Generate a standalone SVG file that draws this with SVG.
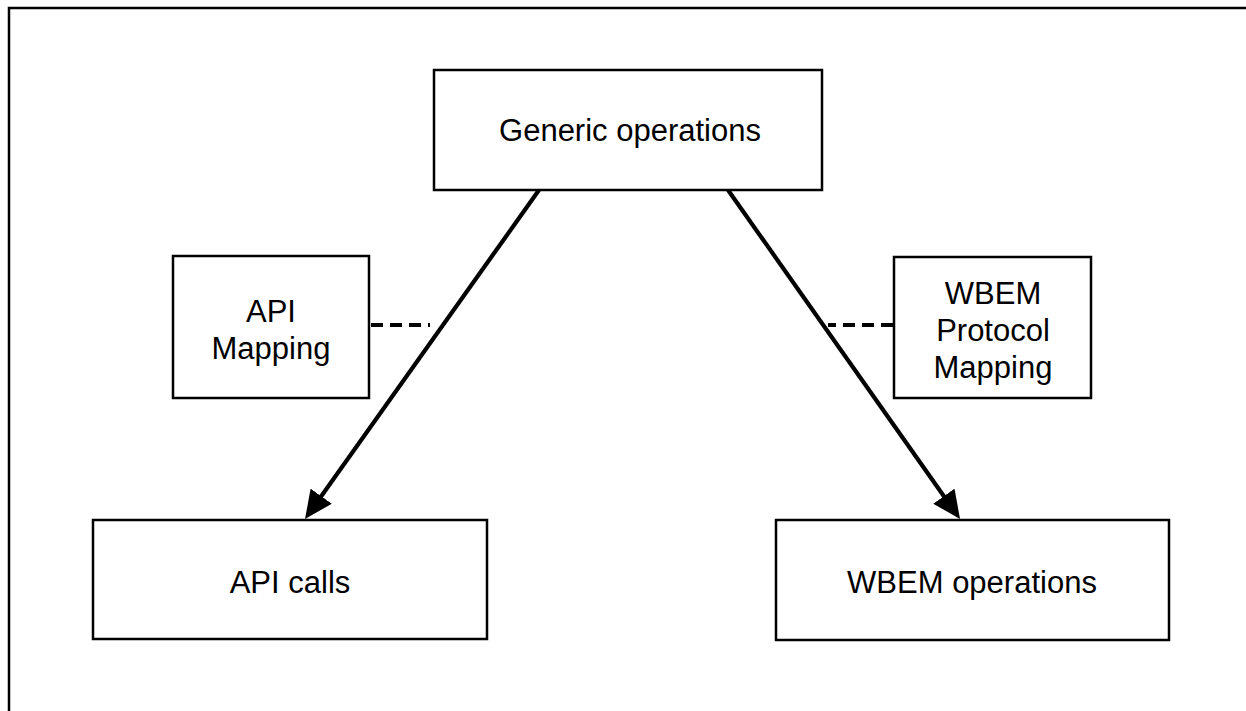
<svg xmlns="http://www.w3.org/2000/svg" width="1246" height="711" viewBox="0 0 1246 711">
  <style>
    .box { fill: #ffffff; stroke: #000000; stroke-width: 2.5; }
    .lbl { font-family: "Liberation Sans", Arial, sans-serif; font-size: 31px; fill: #000000; text-anchor: middle; }
    .arrow { stroke: #000000; stroke-width: 4.2; fill: none; marker-end: url(#head); }
    .dash { stroke: #000000; stroke-width: 4; fill: none; stroke-dasharray: 12 7; }
  </style>
  <defs>
    <marker id="head" markerUnits="userSpaceOnUse" viewBox="-8 -13 28 26" markerWidth="28" markerHeight="26" refX="0" refY="0" orient="auto">
      <path d="M-8,-13 L20,0 L-8,13 Z" fill="#000000"/>
    </marker>
  </defs>
  <rect width="1246" height="711" fill="#ffffff"/>
  <rect id="frame" x="9" y="8" width="1300" height="800" fill="none" stroke="#000000" stroke-width="2.5"/>

  <g id="connectors">
    <line class="arrow" x1="539" y1="190" x2="316.6" y2="502.7"/>
    <line class="arrow" x1="728" y1="190" x2="948.5" y2="502.7"/>
    <line class="dash" x1="371" y1="325" x2="430" y2="325"/>
    <line class="dash" x1="893" y1="325" x2="828" y2="325"/>
  </g>

  <g id="generic-operations">
    <rect class="box" x="434" y="70" width="388" height="120"/>
    <text class="lbl" x="630" y="141">Generic operations</text>
  </g>
  <g id="api-mapping">
    <rect class="box" x="173" y="256" width="196" height="142"/>
    <text class="lbl" x="271" y="322">API</text>
    <text class="lbl" x="271" y="359">Mapping</text>
  </g>
  <g id="wbem-protocol-mapping">
    <rect class="box" x="894" y="257" width="197" height="141"/>
    <text class="lbl" x="993" y="304">WBEM</text>
    <text class="lbl" x="993" y="341">Protocol</text>
    <text class="lbl" x="993" y="378">Mapping</text>
  </g>
  <g id="api-calls">
    <rect class="box" x="93" y="520" width="394" height="119"/>
    <text class="lbl" x="290" y="593">API calls</text>
  </g>
  <g id="wbem-operations">
    <rect class="box" x="776" y="520" width="393" height="120"/>
    <text class="lbl" x="972" y="593">WBEM operations</text>
  </g>
</svg>
